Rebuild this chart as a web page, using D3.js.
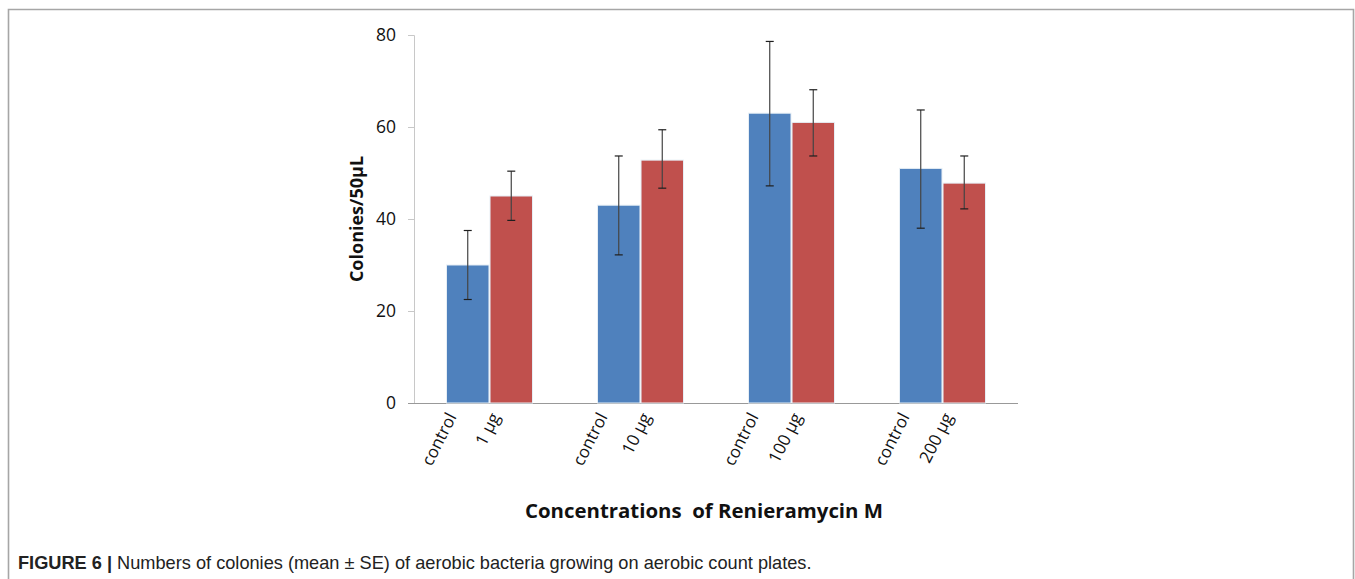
<!DOCTYPE html>
<html><head><meta charset="utf-8">
<script src="https://cdn.jsdelivr.net/npm/d3@7"></script>
<style>body{margin:0;background:#fff}svg{display:block}</style>
</head><body>
<svg id="c" width="1355" height="579"></svg>
<script>
const groups = ["1 µg", "10 µg", "100 µg", "200 µg"];
const seriesNames = ["control", "treated"];
const controlMean = [30, 43, 63, 51];
const controlHi = [37.5, 53.7, 78.6, 63.7];
const controlLo = [22.5, 32.2, 47.2, 38];
const treatedMean = [45, 52.8, 61, 47.8];
const treatedHi = [50.4, 59.4, 68.1, 53.7];
const treatedLo = [39.7, 46.7, 53.7, 42.2];
const yTicks = [0, 20, 40, 60, 80];
const barColors = ["#4F81BD", "#C0504D"];

const svg = d3.select("#c");
// frame
svg.append("path").attr("d","M8.5,579 V9.5 H1353.5 V579").attr("fill","none").attr("stroke","#a6a6a6").attr("stroke-width",1.6);

const m = {left:414, right:1018, top:35, bottom:403};
const y = d3.scaleLinear().domain([0,80]).range([m.bottom, m.top]);
const x0 = d3.scaleBand().domain(groups).range([m.left, m.right]).paddingInner(0).paddingOuter(0);
const x1 = d3.scaleBand().domain(seriesNames).range([0, 86]).paddingInner(0.024);
const off = (x0.bandwidth() - 86) / 2;

// y axis
const ya = svg.append("g").attr("transform",`translate(${m.left},0)`).call(d3.axisLeft(y).tickValues(yTicks).tickSize(6).tickPadding(12));
ya.select(".domain").attr("stroke","#c8c8c8");
ya.selectAll(".tick line").attr("stroke","#c8c8c8");
ya.selectAll(".tick text").attr("font-family","Open Sans, sans-serif").attr("font-size",17.5).attr("fill","#111");

// x axis line
svg.append("line").attr("x1",m.left-6).attr("x2",m.right).attr("y1",m.bottom+0.5).attr("y2",m.bottom+0.5).attr("stroke","#999").attr("stroke-width",1.2);

const data = groups.map((g,i)=>[
  {g, s:"control", v:controlMean[i], hi:controlHi[i], lo:controlLo[i], label:"control"},
  {g, s:"treated", v:treatedMean[i], hi:treatedHi[i], lo:treatedLo[i], label:g}
]).flat();

const bars = svg.append("g");
bars.selectAll("rect").data(data).join("rect")
  .attr("x", d=>x0(d.g)+off+x1(d.s))
  .attr("y", d=>y(d.v))
  .attr("width", x1.bandwidth())
  .attr("height", d=>y(0)-y(d.v))
  .attr("fill", d=>barColors[seriesNames.indexOf(d.s)])
  .attr("stroke","#e6eef5").attr("stroke-width",1);

const eb = svg.append("g").attr("stroke","#1e1e1e").attr("stroke-width",1.2);
data.forEach(d=>{
  const cx = x0(d.g)+off+x1(d.s)+x1.bandwidth()/2;
  eb.append("line").attr("x1",cx).attr("x2",cx).attr("y1",y(d.hi)).attr("y2",y(d.lo)).attr("stroke","#444");
  eb.append("line").attr("x1",cx-4).attr("x2",cx+4).attr("y1",y(d.hi)).attr("y2",y(d.hi));
  eb.append("line").attr("x1",cx-4).attr("x2",cx+4).attr("y1",y(d.lo)).attr("y2",y(d.lo));
});

// x labels
const xl = svg.append("g");
data.forEach(d=>{
  const cx = x0(d.g)+off+x1(d.s)+x1.bandwidth()/2;
  xl.append("text").attr("transform",`translate(${cx-16},${m.bottom+11}) rotate(-63)`)
    .attr("text-anchor","end").attr("dy","0.35em")
    .attr("font-family","Open Sans, sans-serif").attr("font-size",17).attr("fill","#111")
    .text(d.label);
});

// axis titles
svg.append("text").attr("transform",`translate(363,${y(40)}) rotate(-90)`).attr("text-anchor","middle")
  .attr("font-family","Open Sans, sans-serif").attr("font-weight","bold").attr("font-size",18).attr("fill","#111")
  .text("Colonies/50µL");
svg.append("text").attr("x",704).attr("y",518).attr("text-anchor","middle")
  .attr("font-family","Open Sans, sans-serif").attr("font-weight","bold").attr("font-size",20.4).attr("fill","#111")
  .attr("xml:space","preserve").style("white-space","pre")
  .text("Concentrations  of Renieramycin M");

// caption
const cap = svg.append("text").attr("x",18).attr("y",569).attr("font-family","Liberation Sans, Arial, sans-serif").attr("font-size",18.2).attr("fill","#222");
cap.append("tspan").attr("font-weight","bold").text("FIGURE 6 | ");
cap.append("tspan").text("Numbers of colonies (mean ± SE) of aerobic bacteria growing on aerobic count plates.");
</script>
</body></html>
